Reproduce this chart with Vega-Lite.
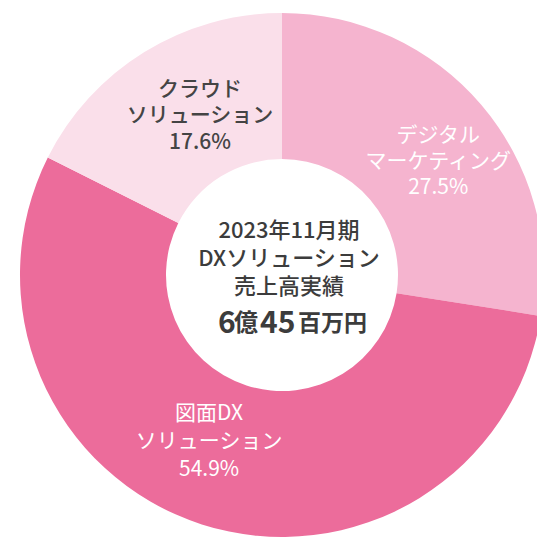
{
  "$schema": "https://vega.github.io/schema/vega-lite/v6.json",
  "width": 564,
  "height": 550,
  "autosize": "none",
  "padding": 0,
  "background": "white",
  "view": {"stroke": null},
  "config": {"font": "Noto Sans CJK JP"},
  "datasets": {
    "share": [
      {"name": "デジタルマーケティング", "label": "デジタル\nマーケティング\n27.5%", "value": 27.5, "order": 1},
      {"name": "図面DXソリューション", "label": "図面DX\nソリューション\n54.9%", "value": 54.9, "order": 2},
      {"name": "クラウドソリューション", "label": "クラウド\nソリューション\n17.6%", "value": 17.6, "order": 3}
    ],
    "center": [
      {"title": "2023年11月期\nDXソリューション\n売上高実績", "d1": "6", "k1": "億", "d2": "45", "k2": "百万円"}
    ]
  },
  "encoding": {
    "theta": {"field": "value", "type": "quantitative", "stack": true},
    "order": {"field": "order", "type": "quantitative"}
  },
  "layer": [
    {
      "data": {"name": "share"},
      "mark": {"type": "arc", "radius": 262, "radius2": 116, "stroke": null},
      "encoding": {
        "color": {
          "field": "name", "type": "nominal", "legend": null,
          "scale": {
            "domain": ["デジタルマーケティング", "図面DXソリューション", "クラウドソリューション"],
            "range": ["#F5B4CF", "#EC6C9B", "#FADFEA"]
          }
        }
      }
    },
    {
      "data": {"name": "share"},
      "mark": {"type": "text", "radius": 195, "dx": 8, "dy": -12, "lineBreak": "\n", "lineHeight": 26, "fontSize": 21, "fontWeight": "normal", "color": "white", "align": "center", "baseline": "middle"},
      "encoding": {
        "text": {"condition": {"test": "datum.order === 1", "field": "label"}, "value": ""}
      }
    },
    {
      "data": {"name": "share"},
      "mark": {"type": "text", "radius": 150, "dx": -27, "dy": -4, "lineBreak": "\n", "lineHeight": 28, "fontSize": 21, "fontWeight": "normal", "color": "white", "align": "center", "baseline": "middle"},
      "encoding": {
        "text": {"condition": {"test": "datum.order === 2", "field": "label"}, "value": ""}
      }
    },
    {
      "data": {"name": "share"},
      "mark": {"type": "text", "radius": 200, "dx": 23, "dy": -15, "lineBreak": "\n", "lineHeight": 26.5, "fontSize": 21, "fontWeight": 500, "color": "#444444", "align": "center", "baseline": "middle"},
      "encoding": {
        "text": {"condition": {"test": "datum.order === 3", "field": "label"}, "value": ""}
      }
    },
    {
      "data": {"name": "center"},
      "mark": {"type": "text", "lineBreak": "\n", "lineHeight": 28, "fontSize": 22, "fontWeight": 500, "color": "#3c3c3c", "align": "center", "baseline": "middle", "dx": 7, "dy": -44},
      "encoding": {"text": {"field": "title"}, "theta": null, "order": null}
    },
    {
      "data": {"name": "center"},
      "mark": {"type": "text", "fontSize": 30, "fontWeight": "bold", "color": "#3c3c3c", "align": "left", "baseline": "alphabetic", "dx": -64, "dy": 58},
      "encoding": {"text": {"field": "d1"}, "theta": null, "order": null}
    },
    {
      "data": {"name": "center"},
      "mark": {"type": "text", "fontSize": 24, "fontWeight": "bold", "color": "#3c3c3c", "align": "left", "baseline": "alphabetic", "dx": -48, "dy": 56},
      "encoding": {"text": {"field": "k1"}, "theta": null, "order": null}
    },
    {
      "data": {"name": "center"},
      "mark": {"type": "text", "fontSize": 30, "fontWeight": "bold", "color": "#3c3c3c", "align": "left", "baseline": "alphabetic", "dx": -22, "dy": 58},
      "encoding": {"text": {"field": "d2"}, "theta": null, "order": null}
    },
    {
      "data": {"name": "center"},
      "mark": {"type": "text", "fontSize": 23, "fontWeight": "bold", "color": "#3c3c3c", "align": "left", "baseline": "alphabetic", "dx": 16, "dy": 56},
      "encoding": {"text": {"field": "k2"}, "theta": null, "order": null}
    }
  ]
}
